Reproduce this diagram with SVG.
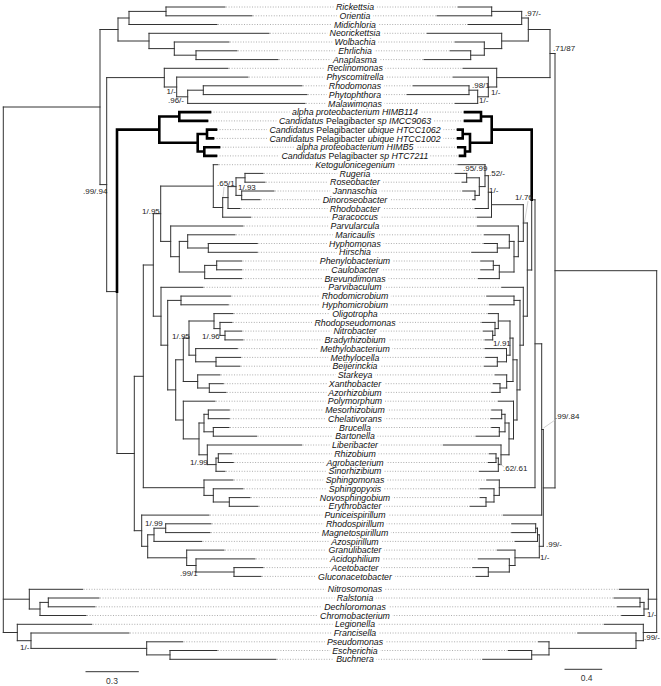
<svg xmlns="http://www.w3.org/2000/svg" xmlns:xlink="http://www.w3.org/1999/xlink" width="661" height="686" viewBox="0 0 661 686">
<style>
.lab{font-family:"Liberation Sans",Arial,sans-serif;font-size:8.8px;font-style:italic;text-anchor:middle;fill:#111}
.u{font-style:normal}
.s{font-family:"Liberation Sans",Arial,sans-serif;font-size:8px;fill:#222}
.sc{font-family:"Liberation Sans",Arial,sans-serif;font-size:8.5px;fill:#333;text-anchor:middle}
.br{fill:none;stroke:#333;stroke-width:1;stroke-linecap:square}
.tk{fill:none;stroke:#000;stroke-width:2.6;stroke-linecap:square}
.dt{fill:none;stroke:#999;stroke-width:0.8;stroke-dasharray:1 1.6}
.ld{fill:none;stroke:#bbb;stroke-width:0.7}
</style>
<defs>
<mask id="lm" maskUnits="userSpaceOnUse" x="0" y="0" width="661" height="686">
<rect x="0" y="0" width="661" height="686" fill="#fff"/>
<use xlink:href="#labels" href="#labels" stroke="#000" stroke-width="6" stroke-linejoin="round"/>
</mask>
</defs>
<rect x="0" y="0" width="661" height="686" fill="#fff"/>
<g id="connectors">
<path class="dt" mask="url(#lm)" d="M226,7H457M253,15.8H436M218,24.5H467M270,33.3H426M230,42H454M238,50.8H449M279,59.6H423M229,68.3H462M249,77.1H452M303,85.8H412M308,94.6H406M306,103.4H454M211,112.1H464M208,120.9H464M217,129.6H457M214,138.4H457M220,147.2H457M217,155.9H459M219,164.7H457M264,173.4H454M266,182.2H461M275,191H461.7M261,199.7H471.7M241,208.5H474M251.7,217.2H476.3M244,226H476.3M236,234.8H483.3M258.3,243.5H483M258.3,252.3H470.7M242.7,261H479.7M242.7,269.8H479.7M242.7,278.6H477.3M204,287.3H500.7M231.7,296.1H485.7M229.3,304.8H488.3M234,313.6H487.3M233,322.4H481M242.7,331.1H482.3M244,339.9H484M238.3,348.6H484M241.7,357.4H484.7M241,366.2H483.3M221,374.9H494M224.3,383.7H492.3M227,392.4H490.7M216,401.2H497.3M230.3,410H490.7M230.3,418.7H489.7M230,427.5H490.7M257.7,436.2H475M302.7,445H442.3M232.7,453.8H488.3M234.3,462.5H487.3M226,471.3H478.3M234,480H485.7M244,488.8H479M251,497.6H479M259,506.3H469M210,515.1H502.3M212,523.8H510.7M211,532.6H510.7M202.7,541.4H514M225,550.1H496.3M256,558.9H477.3M264,567.6H471.7M262,576.4H475M83.7,589.3H618.3M100,598H613M96,606.8H616.3M87,615.5H620.7M92.7,624.3H603.3M130,633H576.7M183.7,641.8H537.3M218,650.5H507.3M277,659.3H481.7"/>
<path id="left-tree" class="br" d="M3.3,107V632.5M3.3,107H100M3.3,599.2H29.3M3.3,632.5H17.3
M100,29.5V184.6M100,29.5H118M100,184.6H106.7
M118,18V41M118,18H129M118,41H149
M129,11.4V24.5M129,11.4H166M129,24.5H217
M166,7V15.8M166,7H225M166,15.8H252
M149,33.3V48.6M149,33.3H269M149,48.6H174.3
M174.3,42V55.2M174.3,42H229M174.3,55.2H196
M196,50.8V59.6M196,50.8H237M196,59.6H278
M106.7,77.6V291.6M106.7,77.6H164.3M106.7,291.6H117
M164.3,68.3V87M164.3,68.3H228M164.3,87H176.7
M176.7,77.1V96.8M176.7,77.1H248M176.7,96.8H187.7
M187.7,90.2V103.4M187.7,90.2H203.3M187.7,103.4H305
M203.3,85.8V94.6M203.3,85.8H302M203.3,94.6H307
M117,291.6V453.5M117,453.5H134.3
M134.3,376.3V530.7M134.3,376.3H143.3M134.3,530.7H141.7
M143.3,265V487.7M143.3,265H153.3M143.3,487.7H204
M153.3,213.7V316.2M153.3,213.7H160.7M153.3,316.2H161
M160.7,186.1V241.4M160.7,186.1H213.3M160.7,241.4H170.7
M213.3,164.7V207.5M213.3,164.7H218M213.3,207.5H222.7
M222.7,197.6V217.2M222.7,197.6H228M222.7,217.2H250.7
M228,186.6V208.5M228,186.6H236M228,208.5H240
M236,177.8V195.4M236,177.8H245M236,195.4H241.7
M245,173.4V182.2M245,173.4H263M245,182.2H265
M241.7,191V199.7M241.7,191H274M241.7,199.7H260
M170.7,226V256.7M170.7,226H243M170.7,256.7H179.3
M179.3,241.4V272M179.3,241.4H187.7M179.3,272H204.7
M187.7,234.8V248M187.7,234.8H235M187.7,248H208.3
M208.3,243.5V252.3M208.3,243.5H257.3M208.3,252.3H257.3
M204.7,265.4V278.6M204.7,265.4H216.7M204.7,278.6H241.7
M216.7,261V269.8M216.7,261H241.7M216.7,269.8H241.7
M161,287.3V345.2M161,287.3H203M161,345.2H167.7
M167.7,300.4V389.9M167.7,300.4H181M167.7,389.9H175.7
M181,296.1V304.8M181,296.1H230.7M181,304.8H228.3
M175.7,359.8V420M175.7,359.8H183.3M175.7,420H183.3
M183.3,338.1V381.5M183.3,338.1H189M183.3,381.5H197.7
M189,321V355.2M189,321H214M189,355.2H195.7
M214,313.6V328.6M214,313.6H233M214,328.6H220
M220,322.4V335.4M220,322.4H232M220,335.4H225
M225,331.1V339.9M225,331.1H241.7M225,339.9H243
M195.7,348.6V361.8M195.7,348.6H237.3M195.7,361.8H216
M216,357.4V366.2M216,357.4H240.7M216,366.2H240
M197.7,374.9V388M197.7,374.9H220M197.7,388H209.3
M209.3,383.7V392.4M209.3,383.7H223.3M209.3,392.4H226
M183.3,401.2V438.9M183.3,401.2H215M183.3,438.9H199
M199,423V454.8M199,423H204M199,454.8H207.3
M204,414.3V431.8M204,414.3H208.3M204,431.8H213.3
M208.3,410V418.7M208.3,410H229.3M208.3,418.7H229.3
M213.3,427.5V436.2M213.3,427.5H229M213.3,436.2H256.7
M207.3,445V464.6M207.3,445H301.7M207.3,464.6H216
M216,458.1V471.3M216,458.1H218.3M216,471.3H225
M218.3,453.8V462.5M218.3,453.8H231.7M218.3,462.5H233.3
M204,480V495.4M204,480H233M204,495.4H213.3
M213.3,488.8V502M213.3,488.8H243M213.3,502H229.3
M229.3,497.6V506.3M229.3,497.6H250M229.3,506.3H258
M141.7,515.1V546.3M141.7,515.1H209M141.7,546.3H147.7
M147.7,534.8V557.8M147.7,534.8H154M147.7,557.8H186.7
M154,528.2V541.4M154,528.2H165.7M154,541.4H201.7
M165.7,523.8V532.6M165.7,523.8H211M165.7,532.6H210
M186.7,550.1V565.5M186.7,550.1H224M186.7,565.5H196
M196,558.9V572M196,558.9H255M196,572H234
M234,567.6V576.4M234,567.6H263M234,576.4H261
M29.3,589.3V609M29.3,589.3H82.7M29.3,609H40
M40,602.4V615.5M40,602.4H48.3M40,615.5H86
M48.3,598V606.8M48.3,598H99M48.3,606.8H95
M17.3,624.3V640.7M17.3,624.3H91.7M17.3,640.7H31
M31,633V648.4M31,633H129M31,648.4H146.7
M146.7,641.8V654.9M146.7,641.8H182.7M146.7,654.9H170
M170,650.5V659.3M170,650.5H217M170,659.3H276"/>
<path id="left-sar11" class="tk" d="M117,129.6V291.6M117,129.6H159.3M159.3,116.5V142.8M159.3,116.5H179.3M159.3,142.8H197.7M179.3,112.1V120.9M179.3,112.1H210M179.3,120.9H207M197.7,134V151.5M197.7,134H207M197.7,151.5H204.3M207,129.6V138.4M207,129.6H216M207,138.4H213M204.3,147.2V155.9M204.3,147.2H219M204.3,155.9H216"/>
<path id="right-tree" class="br" d="M656.7,270.7V632.5M656.7,270.7H555M656.7,599.2H648.3M656.7,632.5H643.3
M555,53.5V487.9M555,53.5H550M555,487.9H543.3
M550,29.5V77.6M550,29.5H528.3M550,77.6H496.7
M528.3,18V41M528.3,18H521.7M528.3,41H501.7
M521.7,11.4V24.5M521.7,11.4H491.7M521.7,24.5H468
M491.7,7V15.8M491.7,7H458M491.7,15.8H437
M501.7,33.3V48.6M501.7,33.3H427M501.7,48.6H484.3
M484.3,42V55.2M484.3,42H455M484.3,55.2H470.7
M470.7,50.8V59.6M470.7,50.8H450M470.7,59.6H424
M496.7,68.3V87M496.7,68.3H463M496.7,87H488.3
M488.3,77.1V96.8M488.3,77.1H453M488.3,96.8H477.7
M477.7,90.2V103.4M477.7,90.2H469M477.7,103.4H455
M469,85.8V94.6M469,85.8H413M469,94.6H407
M543.3,429.5V546.3M543.3,429.5H541.7M543.3,546.3H539.3
M541.7,343.8V515.1M541.7,343.8H535M541.7,515.1H503.3
M535,199.8V487.7M535,199.8H531.7M535,487.7H499.3
M531.7,199.8V270M531.7,270H527.3
M527.3,223V316.2M527.3,223H523.3M527.3,316.2H523.3
M523.3,204.7V241.4M523.3,204.7H491.5M523.3,241.4H518.3
M491.5,192.2V217.2M491.5,192.2H488.3M491.5,217.2H477.3
M488.3,175.7V208.5M488.3,175.7H485M488.3,208.5H475
M485,164.7V186.6M485,164.7H458M485,186.6H479.3
M479.3,177.8V195.4M479.3,177.8H466.7M479.3,195.4H475
M466.7,173.4V182.2M466.7,173.4H455M466.7,182.2H462
M475,191V199.7M475,191H462.7M475,199.7H472.7
M518.3,226V256.7M518.3,226H477.3M518.3,256.7H514
M514,241.4V272M514,241.4H509.3M514,272H499.3
M509.3,234.8V248M509.3,234.8H484.3M509.3,248H497.3
M497.3,243.5V252.3M497.3,243.5H484M497.3,252.3H471.7
M499.3,265.4V278.6M499.3,265.4H493.3M499.3,278.6H478.3
M493.3,261V269.8M493.3,261H480.7M493.3,269.8H480.7
M523.3,287.3V345.2M523.3,287.3H501.7M523.3,345.2H520
M520,300.4V389.9M520,300.4H514M520,389.9H517
M514,296.1V304.8M514,296.1H486.7M514,304.8H489.3
M517,359.8V420M517,359.8H513M517,420H513.5
M513,338.1V381.5M513,338.1H510M513,381.5H506.7
M510,321V355.2M510,321H498.3M510,355.2H506.5
M498.3,313.6V328.6M498.3,313.6H488.3M498.3,328.6H495
M495,322.4V335.4M495,322.4H482M495,335.4H492.7
M492.7,331.1V339.9M492.7,331.1H483.3M492.7,339.9H485
M506.5,348.6V361.8M506.5,348.6H485M506.5,361.8H497.3
M497.3,357.4V366.2M497.3,357.4H485.7M497.3,366.2H484.3
M506.7,374.9V388M506.7,374.9H495M506.7,388H500
M500,383.7V392.4M500,383.7H493.3M500,392.4H491.7
M513.5,401.2V438.9M513.5,401.2H498.3M513.5,438.9H509
M509,423V454.8M509,423H505M509,454.8H501
M505,414.3V431.8M505,414.3H501.7M505,431.8H499.3
M501.7,410V418.7M501.7,410H491.7M501.7,418.7H490.7
M499.3,427.5V436.2M499.3,427.5H491.7M499.3,436.2H476
M501,445V464.6M501,445H443.3M501,464.6H498.3
M498.3,458.1V471.3M498.3,458.1H496M498.3,471.3H479.3
M496,453.8V462.5M496,453.8H489.3M496,462.5H488.3
M499.3,480V495.4M499.3,480H486.7M499.3,495.4H494
M494,488.8V502M494,488.8H480M494,502H486
M486,497.6V506.3M486,497.6H480M486,506.3H470
M539.3,534.8V557.8M539.3,534.8H537.5M539.3,557.8H515
M537.5,528.2V541.4M537.5,528.2H535.7M537.5,541.4H515
M535.7,523.8V532.6M535.7,523.8H511.7M535.7,532.6H511.7
M515,550.1V565.5M515,550.1H497.3M515,565.5H509.3
M509.3,558.9V572M509.3,558.9H478.3M509.3,572H488.3
M488.3,567.6V576.4M488.3,567.6H472.7M488.3,576.4H476
M648.3,589.3V609M648.3,589.3H619.3M648.3,609H644
M644,602.4V615.5M644,602.4H640M644,615.5H621.7
M640,598V606.8M640,598H614M640,606.8H617.3
M643.3,624.3V640.7M643.3,624.3H604.3M643.3,640.7H636
M636,633V648.4M636,633H577.7M636,648.4H549
M549,641.8V654.9M549,641.8H538.3M549,654.9H531.7
M531.7,650.5V659.3M531.7,650.5H508.3M531.7,659.3H482.7"/>
<path id="right-sar11" class="tk" d="M531.7,129.6V199.8M531.7,129.6H491.7M491.7,116.5V142.8M491.7,116.5H481M491.7,142.8H470M481,112.1V120.9M481,112.1H465M481,120.9H465M470,134V151.5M470,134H462.7M470,151.5H465M462.7,129.6V138.4M462.7,129.6H458M462.7,138.4H458M465,147.2V155.9M465,147.2H458.3M465,155.9H460"/>
<path class="ld" d="M224,187L223,197M528,201L524.5,222M555,420L543.5,428M499,463L504,467"/>
</g>
<g id="support">
<text class="s" x="166.5" y="93.5">1/-</text>
<text class="s" x="168" y="102.8">.96/-</text>
<text class="s" x="83" y="193.8">.99/.94</text>
<text class="s" x="142" y="213.8">1/.95</text>
<text class="s" x="217" y="186.1">.65/1</text>
<text class="s" x="238" y="189.5">1/.93</text>
<text class="s" x="172" y="338.5">1/.95</text>
<text class="s" x="202" y="338.5">1/.96</text>
<text class="s" x="190" y="465.1">1/.99</text>
<text class="s" x="145" y="526.1">1/.99</text>
<text class="s" x="180" y="575.5">.99/1</text>
<text class="s" x="20" y="649.5">1/-</text>
<text class="s" x="525" y="15.5">.97/-</text>
<text class="s" x="553" y="51.1">.71/87</text>
<text class="s" x="472" y="87.8">.98/1</text>
<text class="s" x="491" y="94.5">1/-</text>
<text class="s" x="479" y="102.8">1/-</text>
<text class="s" x="463" y="171.1">.95/.99</text>
<text class="s" x="489" y="175.5">.52/-</text>
<text class="s" x="489" y="192.8">1/-</text>
<text class="s" x="515" y="199.5">1/.76</text>
<text class="s" x="493" y="345.8">1/.91</text>
<text class="s" x="555" y="418.8">.99/.84</text>
<text class="s" x="503" y="471.1">.62/.61</text>
<text class="s" x="546" y="546.8">.99/-</text>
<text class="s" x="540" y="559.8">1/-</text>
<text class="s" x="647" y="616.8">1/-</text>
<text class="s" x="644" y="639.5">.99/-</text>
</g>
<g id="scales">
<path class="br" d="M86,671.7H138.3M565,669.3H601.7"/>
<text class="sc" x="112" y="684">0.3</text>
<text class="sc" x="586.7" y="681">0.4</text>
</g>
<g id="labels" class="lab">
<g id="n-rickettsia"><text x="355" y="10.1">Rickettsia</text></g>
<g id="n-orientia"><text x="355" y="18.9">Orientia</text></g>
<g id="n-midichloria"><text x="355" y="27.6">Midichloria</text></g>
<g id="n-neorickettsia"><text x="355" y="36.4">Neorickettsia</text></g>
<g id="n-wolbachia"><text x="355" y="45.1">Wolbachia</text></g>
<g id="n-ehrlichia"><text x="355" y="53.9">Ehrlichia</text></g>
<g id="n-anaplasma"><text x="355" y="62.7">Anaplasma</text></g>
<g id="n-reclinomonas"><text x="355" y="71.4">Reclinomonas</text></g>
<g id="n-physcomitrella"><text x="355" y="80.2">Physcomitrella</text></g>
<g id="n-rhodomonas"><text x="355" y="88.9">Rhodomonas</text></g>
<g id="n-phytophthora"><text x="355" y="97.7">Phytophthora</text></g>
<g id="n-malawimonas"><text x="355" y="106.5">Malawimonas</text></g>
<g id="n-himb114"><text x="355" y="115.2">alpha proteobacterium HIMB114</text></g>
<g id="n-imcc9063"><text x="355" y="124">Candidatus <tspan class="u">Pelagibacter</tspan> sp IMCC9063</text></g>
<g id="n-htcc1062"><text x="355" y="132.7">Candidatus <tspan class="u">Pelagibacter</tspan> ubique HTCC1062</text></g>
<g id="n-htcc1002"><text x="355" y="141.5">Candidatus <tspan class="u">Pelagibacter</tspan> ubique HTCC1002</text></g>
<g id="n-himb5"><text x="355" y="150.3">alpha proteobacterium HIMB5</text></g>
<g id="n-htc7211"><text x="355" y="159">Candidatus <tspan class="u">Pelagibacter</tspan> sp HTC7211</text></g>
<g id="n-ketogulonicegenium"><text x="355" y="167.8">Ketogulonicegenium</text></g>
<g id="n-rugeria"><text x="355" y="176.5">Rugeria</text></g>
<g id="n-roseobacter"><text x="355" y="185.3">Roseobacter</text></g>
<g id="n-jannaschia"><text x="355" y="194.1">Jannaschia</text></g>
<g id="n-dinoroseobacter"><text x="355" y="202.8">Dinoroseobacter</text></g>
<g id="n-rhodobacter"><text x="355" y="211.6">Rhodobacter</text></g>
<g id="n-paracoccus"><text x="355" y="220.3">Paracoccus</text></g>
<g id="n-parvularcula"><text x="355" y="229.1">Parvularcula</text></g>
<g id="n-maricaulis"><text x="355" y="237.9">Maricaulis</text></g>
<g id="n-hyphomonas"><text x="355" y="246.6">Hyphomonas</text></g>
<g id="n-hirschia"><text x="355" y="255.4">Hirschia</text></g>
<g id="n-phenylobacterium"><text x="355" y="264.1">Phenylobacterium</text></g>
<g id="n-caulobacter"><text x="355" y="272.9">Caulobacter</text></g>
<g id="n-brevundimonas"><text x="355" y="281.7">Brevundimonas</text></g>
<g id="n-parvibaculum"><text x="355" y="290.4">Parvibaculum</text></g>
<g id="n-rhodomicrobium"><text x="355" y="299.2">Rhodomicrobium</text></g>
<g id="n-hyphomicrobium"><text x="355" y="307.9">Hyphomicrobium</text></g>
<g id="n-oligotropha"><text x="355" y="316.7">Oligotropha</text></g>
<g id="n-rhodopseudomonas"><text x="355" y="325.5">Rhodopseudomonas</text></g>
<g id="n-nitrobacter"><text x="355" y="334.2">Nitrobacter</text></g>
<g id="n-bradyrhizobium"><text x="355" y="343">Bradyrhizobium</text></g>
<g id="n-methylobacterium"><text x="355" y="351.7">Methylobacterium</text></g>
<g id="n-methylocella"><text x="355" y="360.5">Methylocella</text></g>
<g id="n-beijerinckia"><text x="355" y="369.3">Beijerinckia</text></g>
<g id="n-starkeya"><text x="355" y="378">Starkeya</text></g>
<g id="n-xanthobacter"><text x="355" y="386.8">Xanthobacter</text></g>
<g id="n-azorhizobium"><text x="355" y="395.5">Azorhizobium</text></g>
<g id="n-polymorphum"><text x="355" y="404.3">Polymorphum</text></g>
<g id="n-mesorhizobium"><text x="355" y="413.1">Mesorhizobium</text></g>
<g id="n-chelativorans"><text x="355" y="421.8">Chelativorans</text></g>
<g id="n-brucella"><text x="355" y="430.6">Brucella</text></g>
<g id="n-bartonella"><text x="355" y="439.3">Bartonella</text></g>
<g id="n-liberibacter"><text x="355" y="448.1">Liberibacter</text></g>
<g id="n-rhizobium"><text x="355" y="456.9">Rhizobium</text></g>
<g id="n-agrobacterium"><text x="355" y="465.6">Agrobacterium</text></g>
<g id="n-sinorhizibium"><text x="355" y="474.4">Sinorhizibium</text></g>
<g id="n-sphingomonas"><text x="355" y="483.1">Sphingomonas</text></g>
<g id="n-sphingopyxis"><text x="355" y="491.9">Sphingopyxis</text></g>
<g id="n-novosphingobium"><text x="355" y="500.7">Novosphingobium</text></g>
<g id="n-erythrobacter"><text x="355" y="509.4">Erythrobacter</text></g>
<g id="n-puniceispirillum"><text x="355" y="518.2">Puniceispirillum</text></g>
<g id="n-rhodospirillum"><text x="355" y="526.9">Rhodospirillum</text></g>
<g id="n-magnetospirillum"><text x="355" y="535.7">Magnetospirillum</text></g>
<g id="n-azospirillum"><text x="355" y="544.5">Azospirillum</text></g>
<g id="n-granulibacter"><text x="355" y="553.2">Granulibacter</text></g>
<g id="n-acidophilium"><text x="355" y="562">Acidophilium</text></g>
<g id="n-acetobacter"><text x="355" y="570.7">Acetobacter</text></g>
<g id="n-gluconacetobacter"><text x="355" y="579.5">Gluconacetobacter</text></g>
<g id="n-nitrosomonas"><text x="355" y="592.4">Nitrosomonas</text></g>
<g id="n-ralstonia"><text x="355" y="601.1">Ralstonia</text></g>
<g id="n-dechloromonas"><text x="355" y="609.9">Dechloromonas</text></g>
<g id="n-chromobacterium"><text x="355" y="618.6">Chromobacterium</text></g>
<g id="n-legionella"><text x="355" y="627.4">Legionella</text></g>
<g id="n-francisella"><text x="355" y="636.1">Francisella</text></g>
<g id="n-pseudomonas"><text x="355" y="644.9">Pseudomonas</text></g>
<g id="n-escherichia"><text x="355" y="653.6">Escherichia</text></g>
<g id="n-buchnera"><text x="355" y="662.4">Buchnera</text></g>
</g>
</svg>
